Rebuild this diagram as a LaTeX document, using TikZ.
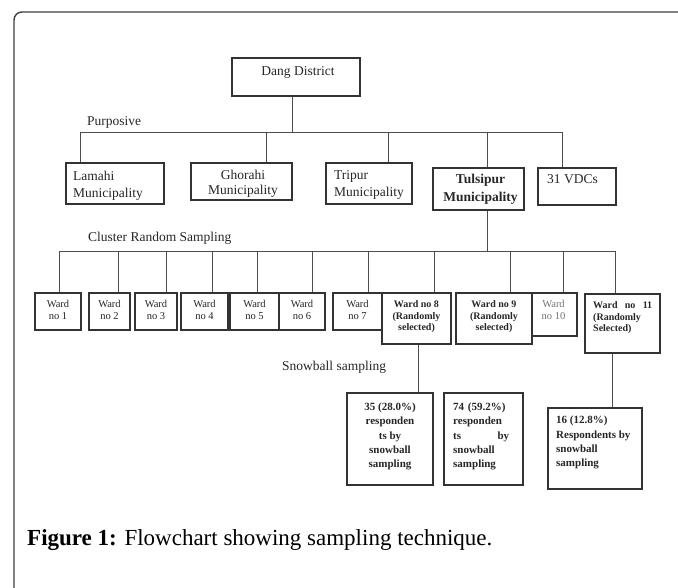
\documentclass[tikz,border=0pt]{standalone}
\usepackage{fontspec}
\setmainfont{Liberation Serif}
\usepackage{tikz}
\tikzset{box/.style={draw=black!80, line width=1.1pt, inner sep=0pt},
 link/.style={draw=black!70, line width=1pt},
 frame/.style={draw=black!75, line width=1.4pt, rounded corners=8pt},
 head/.style={inner sep=0pt, text=black!85, font=\fontsize{13.5}{17}\selectfont},
 ward/.style={inner sep=0pt, text=black!85, align=center, font=\fontsize{10.5}{12}\selectfont},
 picked/.style={inner sep=0pt, text=black!85, font=\bfseries\fontsize{10}{11.5}\selectfont},
 resp/.style={inner sep=0pt, text=black!85, font=\bfseries\fontsize{11}{14.3}\selectfont},
 }

\begin{document}
\begin{tikzpicture}[x=1pt, y=-1pt]
        \useasboundingbox (0,0) rectangle (678,587);
        \draw[frame] (14,600) -- (14,12) -- (690,12);

        \node[box, minimum width=128pt, minimum height=38pt] (dang) at (296,77) {};
        \node[head, anchor=north] (dang-t) at (298,66) {Dang District};
        \node[head, anchor=base west] (purp-t) at (87,125) {Purposive};
        \coordinate (purp) at (292,132);
        \draw[link] ([xshift=-4pt]dang.south) -- (purp);

        \node[box, minimum width=98pt, minimum height=41pt] (lamahi) at (115,183.5) {};
        \node[box, minimum width=101pt, minimum height=37pt] (ghorahi) at (241.5,181.5) {};
        \node[box, minimum width=86pt, minimum height=41pt] (tripur) at (369,183.5) {};
        \node[box, minimum width=91pt, minimum height=42pt] (tulsipur) at (478.5,189) {};
        \node[box, minimum width=78pt, minimum height=37pt] (vdc) at (577,186.5) {};
        \node[head, anchor=north west, align=left] (lamahi-t) at (73,171) {Lamahi\\Municipality};
        \node[head, anchor=north, align=center, font=\fontsize{13.5}{15}\selectfont] (ghorahi-t) at (243,170) {Ghorahi\\Municipality};
        \node[head, anchor=north west, align=left] (tripur-t) at (334,170) {Tripur\\Municipality};
        \node[head, anchor=north, align=center, font=\bfseries\fontsize{13.5}{18}\selectfont] (tulsipur-t) at (480.5,174) {Tulsipur\\Municipality};
        \node[head, anchor=north west] (vdc-t) at (547,174) {31 VDCs};
        \draw[link] ([xshift=-35pt]lamahi.north) |- (purp);
        \draw[link] ([xshift=24.5pt]ghorahi.north) |- (purp);
        \draw[link] ([xshift=19pt]tripur.north) |- (purp);
        \draw[link] ([xshift=8.5pt]tulsipur.north) |- (purp);
        \draw[link] ([xshift=-15pt]vdc.north) |- (purp);

        \node[head, anchor=base west] (clus-t) at (88,241) {Cluster Random Sampling};
        \coordinate (clus) at (487,251);
        \draw[link] ([xshift=8.5pt]tulsipur.south) -- (clus);

        \node[box, minimum width=46pt, minimum height=37pt] (w1) at (58,311.5) {};
        \node[box, minimum width=41pt, minimum height=37pt] (w2) at (109.5,311.5) {};
        \node[box, minimum width=42pt, minimum height=37pt] (w3) at (156,311.5) {};
        \node[box, minimum width=47pt, minimum height=37pt] (w4) at (204.5,311.5) {};
        \node[box, minimum width=49pt, minimum height=37pt] (w5) at (254.5,311.5) {};
        \node[box, minimum width=46pt, minimum height=37pt] (w6) at (302,311.5) {};
        \node[box, minimum width=49pt, minimum height=37pt] (w7) at (357.5,311.5) {};
        \node[box, minimum width=69pt, minimum height=51pt] (w8) at (416.5,318.5) {};
        \node[box, minimum width=76pt, minimum height=51pt] (w9) at (494,318.5) {};
        \node[box, minimum width=45pt, minimum height=43pt] (w10) at (554.5,314.5) {};
        \node[box, minimum width=75pt, minimum height=59pt] (w11) at (622.5,323.5) {};
        \node[ward, anchor=north] (w1-t) at (58,300.5) {Ward\\no 1};
        \node[ward, anchor=north] (w2-t) at (109.5,300.5) {Ward\\no 2};
        \node[ward, anchor=north] (w3-t) at (156,300.5) {Ward\\no 3};
        \node[ward, anchor=north] (w4-t) at (204.5,300.5) {Ward\\no 4};
        \node[ward, anchor=north] (w5-t) at (254.5,300.5) {Ward\\no 5};
        \node[ward, anchor=north] (w6-t) at (302,300.5) {Ward\\no 6};
        \node[ward, anchor=north] (w7-t) at (357.5,300.5) {Ward\\no 7};
        \node[picked, anchor=north, align=center] (w8-t) at (416.5,300.5) {Ward no 8\\(Randomly\\selected)};
        \node[picked, anchor=north, align=center] (w9-t) at (494,300.5) {Ward no 9\\(Randomly\\selected)};
        \node[ward, anchor=north, text=black!55] (w10-t) at (553.5,300.5) {Ward\\no 10};
        \node[picked, anchor=north west, text width=59pt, align=left] (w11-t) at (593,301.5) {Ward\hfill no\hfill 11\\(Randomly\\Selected)};
        \draw[link] ([xshift=1pt]w1.north) |- (clus);
        \draw[link] ([xshift=8.5pt]w2.north) |- (clus);
        \draw[link] ([xshift=10pt]w3.north) |- (clus);
        \draw[link] ([xshift=7.5pt]w4.north) |- (clus);
        \draw[link] ([xshift=2.5pt]w5.north) |- (clus);
        \draw[link] ([xshift=10pt]w6.north) |- (clus);
        \draw[link] ([xshift=10.5pt]w7.north) |- (clus);
        \draw[link] ([xshift=17.5pt]w8.north) |- (clus);
        \draw[link] ([xshift=16pt]w9.north) |- (clus);
        \draw[link] ([xshift=8.5pt]w10.north) |- (clus);
        \draw[link] ([xshift=-7.5pt]w11.north) |- (clus);

        \node[head, anchor=base west] (snow-t) at (282,370) {Snowball sampling};
        \node[box, minimum width=86pt, minimum height=92pt] (s8) at (390,439) {};
        \node[box, minimum width=79pt, minimum height=92pt] (s9) at (483.5,439) {};
        \node[box, minimum width=94pt, minimum height=81pt] (s11) at (595,448.5) {};
        \node[resp, anchor=north, align=center] (s8-t) at (390,402.6) {35 (28.0\%)\\responden\\ts by\\snowball\\sampling};
        \node[resp, anchor=north west, text width=56pt, align=left] (s9-t) at (453,402.6) {74 (59.2\%)\\responden\\ts\hfill by\\snowball\\sampling};
        \node[resp, anchor=north west, align=left] (s11-t) at (556,416) {16 (12.8\%)\\Respondents by\\snowball\\sampling};
        \draw[link] ([xshift=1.5pt]w8.south) -- ([xshift=28pt]s8.north);
        \draw[link] ([xshift=-10.5pt]w11.south) -- ([xshift=17pt]s11.north);

        \node[anchor=base west, inner sep=0pt, font=\fontsize{23}{27}\selectfont] (cap) at (27,545) {\textbf{Figure 1:} Flowchart showing sampling technique.};
    \end{tikzpicture}
\end{document}
